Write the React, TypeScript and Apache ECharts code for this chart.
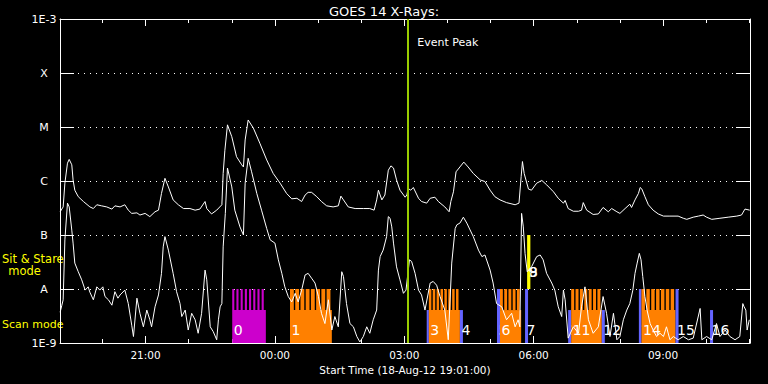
import React, { useEffect, useRef } from 'react';
import * as echarts from 'echarts';

// Time is in hours since 2012-08-18 00:00 UT (values above 24 fall on 19-Aug)
const startHour = 19 + 1 / 60;
const endHour = startHour + 16;
const majorTickHours = [21, 24, 27, 30, 33];
const minorTickHours = [20, 22, 23, 25, 26, 28, 29, 31, 32, 34, 35];
// log10 flux -9 .. -3
const fluxLevelNames = ['1E-9', 'A', 'B', 'C', 'M', 'X', '1E-3'];

// GOES 1-8 A channel (upper curve), log10 W/m^2
const longTimes = [19.02,19.09,19.13,19.19,19.23,19.29,19.32,19.36,19.44,19.56,
19.71,19.79,19.87,19.98,20.10,20.22,20.29,20.41,20.52,20.60,
20.68,20.80,20.87,20.99,21.10,21.22,21.30,21.37,21.45,21.53,
21.64,21.76,21.88,22.03,22.15,22.26,22.38,22.42,22.53,22.65,
22.77,22.80,22.84,22.90,23.00,23.11,23.23,23.27,23.31,23.38,
23.50,23.65,23.81,23.96,24.12,24.27,24.39,24.51,24.62,24.70,
24.77,24.85,24.97,25.08,25.20,25.35,25.47,25.53,25.59,25.70,
25.86,26.05,26.20,26.30,26.36,26.40,26.48,26.55,26.63,26.69,
26.75,26.82,26.90,27.02,27.06,27.09,27.15,27.21,27.33,27.40,
27.52,27.60,27.71,27.79,27.94,28.04,28.08,28.14,28.20,28.29,
28.38,28.48,28.60,28.76,28.87,28.99,29.10,29.22,29.37,29.57,
29.66,29.71,29.74,29.78,29.88,29.95,30.07,30.19,30.30,30.46,
30.57,30.69,30.73,30.80,30.92,31.04,31.11,31.15,31.23,31.38,
31.50,31.61,31.73,31.81,31.93,32.00,32.12,32.23,32.27,32.35,
32.43,32.47,32.51,32.58,32.66,32.77,32.89,33.01,33.16,33.35,
33.47,33.55,33.70,33.82,33.93,34.01,34.13,34.32,34.51,34.71,
34.82,34.90,35.01];
const longLogFlux = [-6.57,-6.48,-6.04,-5.67,-5.60,-5.70,-5.98,-6.17,-6.29,-6.38,
-6.48,-6.51,-6.44,-6.46,-6.48,-6.52,-6.46,-6.48,-6.44,-6.54,
-6.60,-6.59,-6.63,-6.60,-6.66,-6.57,-6.54,-6.23,-5.95,-6.11,
-6.35,-6.44,-6.51,-6.51,-6.54,-6.52,-6.38,-6.51,-6.61,-6.54,
-6.44,-5.86,-5.43,-4.96,-5.18,-5.55,-5.70,-5.74,-5.24,-4.87,
-5.02,-5.30,-5.61,-5.86,-6.04,-6.23,-6.33,-6.32,-6.38,-6.26,
-6.21,-6.21,-6.29,-6.38,-6.46,-6.48,-6.46,-6.28,-6.35,-6.48,
-6.51,-6.51,-6.51,-6.54,-6.35,-6.17,-6.35,-6.26,-5.80,-5.72,
-5.76,-5.98,-6.17,-6.30,-6.26,-6.14,-6.17,-6.12,-6.32,-6.38,
-6.41,-6.32,-6.30,-6.38,-6.48,-6.57,-6.38,-6.20,-5.83,-5.74,
-5.65,-5.74,-5.86,-5.98,-6.01,-6.17,-6.29,-6.35,-6.40,-6.44,
-6.41,-5.92,-5.64,-5.86,-6.15,-6.17,-6.04,-5.99,-6.07,-6.20,
-6.32,-6.41,-6.36,-6.51,-6.56,-6.56,-6.54,-6.40,-6.54,-6.62,
-6.61,-6.49,-6.57,-6.51,-6.57,-6.60,-6.51,-6.43,-6.49,-6.35,
-6.23,-6.12,-6.15,-6.29,-6.44,-6.54,-6.61,-6.65,-6.65,-6.65,
-6.69,-6.71,-6.67,-6.65,-6.63,-6.67,-6.71,-6.69,-6.67,-6.65,
-6.63,-6.52,-6.54];

// GOES 0.5-4 A channel (lower curve), log10 W/m^2
const shortTimes = [19.02,19.06,19.09,19.13,19.19,19.23,19.29,19.32,19.36,19.44,
19.52,19.60,19.67,19.71,19.79,19.87,19.94,20.01,20.06,20.14,
20.22,20.29,20.36,20.41,20.52,20.60,20.68,20.72,20.80,20.87,
20.95,21.03,21.10,21.14,21.22,21.30,21.37,21.41,21.45,21.53,
21.64,21.72,21.80,21.84,21.92,21.99,22.07,22.15,22.22,22.30,
22.38,22.42,22.50,22.57,22.65,22.69,22.73,22.77,22.80,22.85,
22.90,23.00,23.07,23.19,23.27,23.31,23.38,23.46,23.58,23.69,
23.81,23.89,24.00,24.08,24.16,24.23,24.31,24.39,24.47,24.54,
24.62,24.70,24.77,24.85,24.93,25.01,25.08,25.16,25.24,25.32,
25.39,25.47,25.55,25.59,25.66,25.74,25.82,25.90,25.97,26.05,
26.13,26.20,26.28,26.36,26.40,26.44,26.51,26.59,26.63,26.67,
26.71,26.75,26.82,26.90,26.98,27.04,27.12,27.17,27.25,27.33,
27.40,27.48,27.60,27.67,27.75,27.83,27.94,28.02,28.10,28.18,
28.22,28.29,28.37,28.45,28.60,28.72,28.80,28.87,28.99,29.06,
29.14,29.26,29.37,29.49,29.57,29.64,29.68,29.72,29.76,29.80,
29.85,29.95,30.07,30.15,30.22,30.30,30.42,30.49,30.57,30.65,
30.69,30.73,30.80,30.92,31.04,31.11,31.19,31.27,31.38,31.50,
31.61,31.69,31.77,31.85,31.93,32.00,32.08,32.16,32.23,32.30,
32.35,32.40,32.45,32.49,32.53,32.58,32.63,32.70,32.77,32.85,
32.93,33.01,33.08,33.16,33.24,33.35,33.47,33.59,33.70,33.86,
33.90,34.01,34.13,34.24,34.32,34.44,34.55,34.67,34.78,34.85,
34.88,34.92,34.95,35.00];
const shortLogFlux = [-8.43,-8.30,-8.20,-7.09,-6.41,-6.48,-6.91,-7.15,-7.52,-7.68,
-7.83,-8.02,-7.96,-8.06,-8.20,-7.96,-8.02,-7.96,-8.14,-8.20,
-8.30,-8.05,-8.17,-8.11,-8.02,-8.27,-8.67,-8.88,-8.17,-8.45,
-8.70,-8.39,-8.57,-8.70,-8.33,-8.11,-7.71,-7.22,-7.03,-7.28,
-7.71,-8.05,-8.27,-8.51,-8.39,-8.76,-8.45,-8.57,-8.82,-8.45,
-7.65,-7.83,-8.70,-8.79,-8.94,-8.57,-8.33,-8.27,-7.22,-6.60,
-5.76,-6.11,-6.54,-6.85,-7.00,-6.04,-5.58,-5.83,-6.23,-6.54,
-6.88,-7.09,-7.15,-7.46,-7.71,-7.96,-8.14,-8.24,-8.08,-8.24,
-8.02,-7.74,-7.71,-7.80,-7.89,-8.14,-8.45,-8.64,-8.20,-8.76,
-8.51,-8.70,-7.68,-7.77,-8.27,-8.64,-8.70,-8.88,-8.98,-8.88,
-8.70,-8.82,-8.57,-8.39,-7.65,-7.40,-7.28,-7.03,-6.66,-6.69,
-6.85,-7.15,-7.59,-7.83,-8.08,-8.02,-7.46,-7.49,-7.71,-8.02,
-8.11,-8.39,-7.89,-7.86,-7.93,-8.14,-8.39,-8.94,-7.52,-6.88,
-6.81,-6.78,-6.67,-6.78,-7.03,-7.28,-7.40,-7.37,-7.65,-7.89,
-8.27,-8.33,-8.57,-8.45,-8.70,-8.57,-8.70,-6.60,-6.85,-7.34,
-7.68,-7.59,-7.40,-7.37,-7.46,-7.71,-7.89,-8.02,-8.33,-8.51,
-8.02,-8.20,-8.91,-8.70,-8.82,-8.33,-7.96,-8.57,-8.82,-8.70,
-8.14,-8.45,-8.88,-8.45,-8.94,-8.88,-8.57,-8.39,-8.27,-8.02,
-7.71,-7.52,-7.34,-7.46,-7.77,-8.14,-8.39,-8.64,-8.76,-8.88,
-8.82,-8.88,-8.70,-8.94,-8.88,-8.94,-8.88,-8.94,-8.91,-8.36,
-8.94,-8.88,-8.94,-8.64,-8.88,-8.76,-8.88,-8.94,-8.88,-8.27,
-8.33,-8.39,-8.76,-8.57];

const eventPeakHour = 27.07;
const eventPeakLabelLevel = -3.44;

// Observations (numbered blocks along the bottom)
const obsLabels = ['0','1','2','3','4','5','6','7','8','9','10','11','12','13','14','15','16'];
const obsStart = [23.01,24.35,27.52,27.57,28.29,29.15,29.22,29.80,29.86,29.85,30.80,30.87,31.58,32.44,32.50,33.29,34.09];
const obsEnd   = [23.79,25.32,27.57,28.29,28.36,29.22,29.71,29.87,29.92,29.92,30.87,31.58,31.65,32.50,33.29,33.36,34.16];
const obsMode  = ['scan','scan','scan','scan','scan','stare','scan','stare','flare','flare','scan','scan','scan','stare','scan','stare','scan'];
const obsGroup = ['P','O','B','O','B','B','O','B','Y','Y','B','O','B','B','O','B','B'];
const obsRasters = [8,8,0,8,0,0,5,0,0,0,0,7,0,0,7,0,0];

// level extents (log10 flux) for each mode
const modeBottom: Record<string, number> = { scan: -9, stare: -9, flare: -8 };
const modeTop: Record<string, number> = { scan: -8.39, stare: -8, flare: -7 };
const modeLabelLevel: Record<string, number> = { scan: -8.76, stare: -8.76, flare: -7.69 };
const stareTopLevel = -8;

// styles
const FONT = '"DejaVu Sans", sans-serif';
const groupColor: Record<string, string> = { P: '#cc00cc', O: '#ff8000', B: '#6464ff', Y: '#ffff00' };
const groupGap: Record<string, number> = { P: 2.1, O: 1.4, B: 1, Y: 1 };

const fmtHour = (v: number) => {
  const h = ((Math.round(v) % 24) + 24) % 24;
  return (h < 10 ? '0' : '') + h + ':00';
};

const renderObs = (params: any, api: any) => {
  const s = api.value(0);
  const e = api.value(1);
  const idx = api.value(4);
  const mode = obsMode[idx];
  const grp = obsGroup[idx];
  const color = groupColor[grp];
  const n = obsRasters[idx];
  const pb = api.coord([s, modeBottom[mode]]);
  const pt = api.coord([e, modeTop[mode]]);
  const x0 = pb[0];
  const x1 = pt[0];
  const children: any[] = [];
  children.push({
    type: 'rect',
    shape: { x: x0, y: pt[1], width: x1 - x0, height: pb[1] - pt[1] },
    style: { fill: color },
  });
  if (n > 0) {
    const yA = api.coord([s, stareTopLevel])[1];
    const p = (x1 - x0) / n;
    for (let i = 0; i < n; i++) {
      children.push({
        type: 'rect',
        shape: { x: x0 + i * p, y: yA, width: p - groupGap[grp], height: pt[1] - yA },
        style: { fill: color },
      });
    }
  }
  const lp = api.coord([s, modeLabelLevel[mode]]);
  children.push({
    type: 'text',
    x: lp[0] + 1.5,
    y: lp[1],
    style: {
      text: obsLabels[idx],
      fill: '#ffffff',
      font: '14px ' + FONT,
      align: 'left',
      verticalAlign: 'middle',
    },
  });
  return { type: 'group', children };
};

export default function App() {
  const ref = useRef<HTMLDivElement>(null);
  useEffect(() => {
    if (!ref.current) return;
    const chart = echarts.init(ref.current, undefined, { renderer: 'svg' });
    const white = '#ffffff';
    const xBase = {
      type: 'value',
      min: startHour,
      max: endHour,
      splitLine: { show: false },
    };
    const option: any = {
      animation: false,
      backgroundColor: '#000000',
      title: {
        text: 'GOES 14 X-Rays:',
        left: 'center',
        top: 0,
        textStyle: { color: white, fontSize: 13, fontWeight: 'normal', fontFamily: FONT },
      },
      grid: { left: 60, right: 18, top: 19, bottom: 41, containLabel: false, outerBoundsMode: 'none' },
      xAxis: [
        {
          ...xBase,
          position: 'bottom',
          axisLine: { show: true, onZero: false, lineStyle: { color: white, width: 1 } },
          axisTick: { show: true, inside: true, length: 7, customValues: majorTickHours, lineStyle: { color: white } },
          axisLabel: { show: true, customValues: majorTickHours, color: white, fontSize: 10.5, fontFamily: FONT, margin: 6, formatter: fmtHour },
          name: 'Start Time (18-Aug-12 19:01:00)',
          nameLocation: 'middle',
          nameGap: 18,
          nameTextStyle: { color: white, fontSize: 10.5, fontFamily: FONT },
        },
        {
          ...xBase,
          position: 'bottom',
          axisLine: { show: false },
          axisTick: { show: true, inside: true, length: 4, customValues: minorTickHours, lineStyle: { color: white } },
          axisLabel: { show: false },
        },
        {
          ...xBase,
          position: 'top',
          axisLine: { show: true, onZero: false, lineStyle: { color: white, width: 1 } },
          axisTick: { show: true, inside: true, length: 7, customValues: majorTickHours, lineStyle: { color: white } },
          axisLabel: { show: false },
        },
        {
          ...xBase,
          position: 'top',
          axisLine: { show: false },
          axisTick: { show: true, inside: true, length: 4, customValues: minorTickHours, lineStyle: { color: white } },
          axisLabel: { show: false },
        },
      ],
      yAxis: [
        {
          type: 'value',
          position: 'left',
          min: -9,
          max: -3,
          interval: 1,
          axisLine: { show: true, onZero: false, lineStyle: { color: white, width: 1 } },
          axisTick: { show: true, inside: true, length: 14, lineStyle: { color: white } },
          axisLabel: {
            color: white,
            fontSize: 11,
            fontFamily: FONT,
            align: 'center',
            margin: 16,
            formatter: (v: number) => fluxLevelNames[Math.round(v) + 9],
          },
          splitLine: { show: true, lineStyle: { color: white, width: 1, type: [1, 5] } },
        },
        {
          type: 'value',
          position: 'right',
          min: -9,
          max: -3,
          interval: 1,
          axisLine: { show: true, onZero: false, lineStyle: { color: white, width: 1 } },
          axisTick: { show: true, inside: true, length: 14, lineStyle: { color: white } },
          axisLabel: { show: false },
          splitLine: { show: false },
        },
      ],
      graphic: [
        { type: 'text', x: 2, y: 259, style: { text: 'Sit & Stare', fill: '#ffff00', font: '11.5px ' + FONT, align: 'left', verticalAlign: 'middle' } },
        { type: 'text', x: 24.5, y: 271, style: { text: 'mode', fill: '#ffff00', font: '11.5px ' + FONT, align: 'center', verticalAlign: 'middle' } },
        { type: 'text', x: 2, y: 324, style: { text: 'Scan mode', fill: '#ffff00', font: '11px ' + FONT, align: 'left', verticalAlign: 'middle' } },
      ],
      series: [
        {
          type: 'custom',
          name: 'observations',
          xAxisIndex: 0,
          yAxisIndex: 0,
          z: 1,
          silent: true,
          clip: false,
          renderItem: renderObs,
          encode: { x: [0, 1], y: [2, 3] },
          data: obsStart.map((s, i) => [s, obsEnd[i], modeBottom[obsMode[i]], modeTop[obsMode[i]], i]),
        },
        {
          type: 'line',
          name: '1-8 A',
          xAxisIndex: 0,
          yAxisIndex: 0,
          z: 3,
          silent: true,
          showSymbol: false,
          symbol: 'none',
          lineStyle: { color: white, width: 1 },
          data: longTimes.map((t, i) => [t, longLogFlux[i]]),
          markLine: {
            silent: true,
            symbol: ['none', 'none'],
            label: { show: false },
            lineStyle: { color: '#99cc00', width: 2, type: 'solid' },
            data: [{ xAxis: eventPeakHour }],
          },
          markPoint: {
            silent: true,
            symbol: 'circle',
            symbolSize: 0,
            label: {
              show: true,
              position: 'right',
              distance: 10,
              formatter: 'Event Peak',
              color: white,
              fontSize: 11,
              fontFamily: FONT,
            },
            data: [{ coord: [eventPeakHour, eventPeakLabelLevel] }],
          },
        },
        {
          type: 'line',
          name: '0.5-4 A',
          xAxisIndex: 0,
          yAxisIndex: 0,
          z: 3,
          silent: true,
          showSymbol: false,
          symbol: 'none',
          lineStyle: { color: white, width: 1 },
          data: shortTimes.map((t, i) => [t, shortLogFlux[i]]),
        },
      ],
    };
    chart.setOption(option);
    return () => chart.dispose();
  }, []);
  return (
    <div
      ref={ref}
      style={{ position: 'fixed', left: 0, top: 0, width: 768, height: 384, background: '#000' }}
    />
  );
}
